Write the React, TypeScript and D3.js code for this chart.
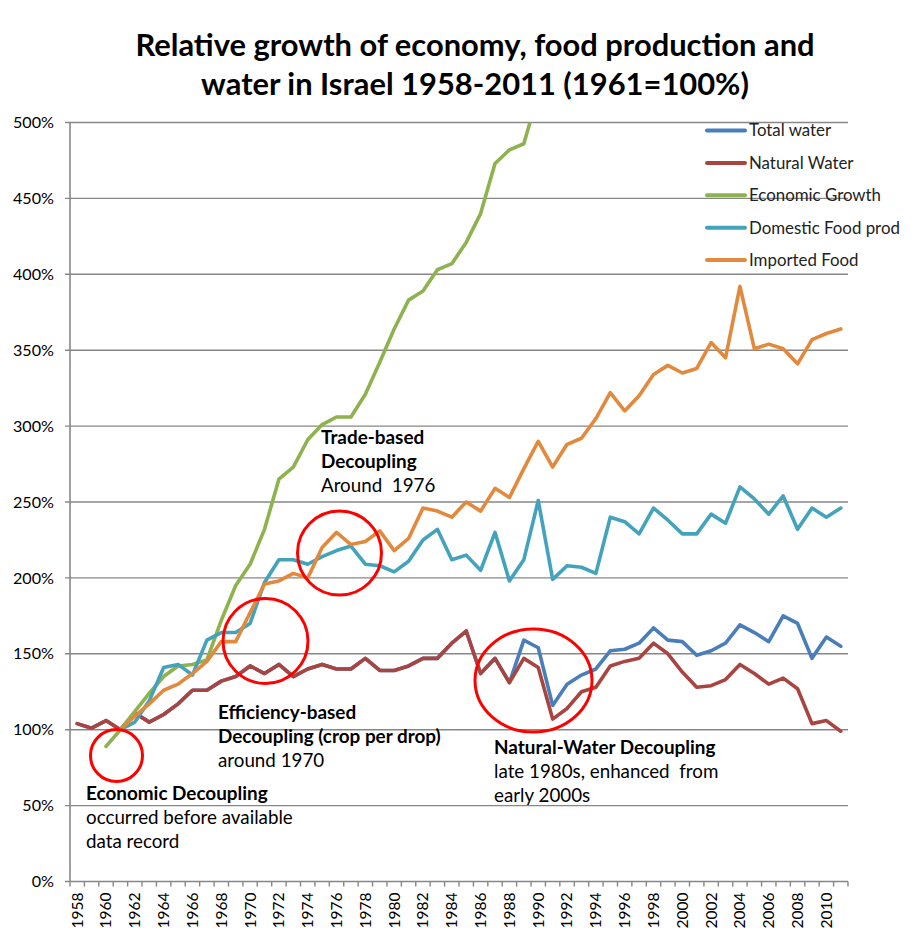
import React, { useMemo } from "react";
import * as d3 from "d3";

// ---------- DATA ----------
const years: number[] = [
  1958, 1959, 1960, 1961, 1962, 1963, 1964, 1965, 1966, 1967, 1968, 1969, 1970, 1971, 1972, 1973, 1974, 1975,
  1976, 1977, 1978, 1979, 1980, 1981, 1982, 1983, 1984, 1985, 1986, 1987, 1988, 1989, 1990, 1991, 1992, 1993,
  1994, 1995, 1996, 1997, 1998, 1999, 2000, 2001, 2002, 2003, 2004, 2005, 2006, 2007, 2008, 2009, 2010, 2011,
];

const totalWater: (number | null)[] = [
  104, 101, 106, 100, 111, 105, 110, 117, 126, 126, 132, 135, 142, 137, 143, 135, 140, 143,
  140, 140, 147, 139, 139, 142, 147, 147, 157, 165, 137, 147, 131, 159, 154, 116, 130, 136,
  140, 152, 153, 157, 167, 159, 158, 149, 152, 157, 169, 164, 158, 175, 170, 147, 161, 155,
];

const naturalWater: (number | null)[] = [
  104, 101, 106, 100, 111, 105, 110, 117, 126, 126, 132, 135, 142, 137, 143, 135, 140, 143,
  140, 140, 147, 139, 139, 142, 147, 147, 157, 165, 137, 147, 131, 147, 141, 107, 114, 125,
  128, 142, 145, 147, 157, 150, 138, 128, 129, 133, 143, 137, 130, 134, 127, 104, 106, 99,
];

const economicGrowth: (number | null)[] = [
  null, null, 89, 100, 112, 124, 135, 142, 143, 146, 172, 195, 209, 232, 265, 273, 291, 301,
  306, 306, 321, 342, 364, 383, 389, 403, 407, 421, 440, 473, 482, 486, 519, null, null, null,
  null, null, null, null, null, null, null, null, null, null, null, null, null, null, null, null, null, null,
];

const domesticFood: (number | null)[] = [
  null, null, null, 100, 105, 119, 141, 143, 136, 159, 164, 164, 170, 197, 212, 212, 209, 214,
  218, 221, 209, 208, 204, 211, 225, 232, 212, 215, 205, 230, 198, 212, 251, 199, 208, 207,
  203, 240, 237, 229, 246, 238, 229, 229, 242, 236, 260, 252, 242, 254, 232, 246, 240, 246,
];

const importedFood: (number | null)[] = [
  null, null, null, 100, 109, 117, 126, 130, 137, 145, 158, 158, 177, 196, 198, 203, 200, 220,
  230, 222, 224, 231, 218, 226, 246, 244, 240, 250, 244, 259, 253, 272, 290, 273, 288, 292,
  305, 322, 310, 320, 334, 340, 335, 338, 355, 345, 392, 351, 354, 351, 341, 357, 361, 364,
];

const seriesNames: string[] = ["Total water", "Natural Water", "Economic Growth", "Domestic Food prod", "Imported Food"];
const seriesValues = [totalWater, naturalWater, economicGrowth, domesticFood, importedFood];
const seriesColors: string[] = ["#4A7EBB", "#A94541", "#8DB24E", "#44A3BC", "#E3893D"];

const yTicks: number[] = [0, 50, 100, 150, 200, 250, 300, 350, 400, 450, 500];

const titleLines: string[] = [
  "Relative growth of economy, food production and",
  "water in Israel 1958-2011 (1961=100%)",
];

// ---------- helpers ----------
const FAMILY = "Lato, 'Open Sans', 'Noto Sans', sans-serif";
let ctx: CanvasRenderingContext2D | null = null;
function measure(t: string, weight: string, size: number): number {
  if (!ctx) ctx = document.createElement("canvas").getContext("2d");
  if (!ctx) return t.length * size * 0.5;
  ctx.font = `${weight} ${size}px Lato`;
  return ctx.measureText(t).width;
}
function fit(t: string, weight: string, target: number): number {
  return (20 * target) / measure(t, weight, 20);
}

export default function App() {
  const W = 924;
  const H = 937;
  const left = 70;
  const right = 848;
  const top = 122.5;
  const bottom = 881.5;

  const x = d3.scaleBand<number>().domain(years).range([left, right]).paddingInner(0).paddingOuter(0);
  const bw = x.bandwidth();
  const cx = (yr: number) => (x(yr) as number) + bw / 2;
  const y = d3.scaleLinear().domain([0, 500]).range([bottom, top]);

  const sizes = useMemo(() => {
    return {
      title: fit(titleLines[0], "bold", 680),
      yLab: fit("100%", "normal", 41),
      xLab: fit("1958", "normal", 36),
      legend: fit("Domestic Food prod", "normal", 151),
      annBold: fit("Natural-Water Decoupling", "bold", 222),
      annReg: fit("occurred before available", "normal", 207),
    };
  }, []);

  const line = d3
    .line<number | null>()
    .defined((v) => v != null)
    .x((_, i) => cx(years[i]))
    .y((v) => y(v as number));

  const gridColor = "#878787";

  const annotations: { x: number; lines: { t: string; bold: boolean; y: number }[] }[] = [
    {
      x: 321,
      lines: [
        { t: "Trade-based", bold: true, y: 444 },
        { t: "Decoupling", bold: true, y: 467.5 },
        { t: "Around  1976", bold: false, y: 491.5 },
      ],
    },
    {
      x: 218,
      lines: [
        { t: "Efficiency-based", bold: true, y: 718.5 },
        { t: "Decoupling (crop per drop)", bold: true, y: 742.5 },
        { t: "around 1970", bold: false, y: 766.5 },
      ],
    },
    {
      x: 86,
      lines: [
        { t: "Economic Decoupling", bold: true, y: 800 },
        { t: "occurred before available", bold: false, y: 824 },
        { t: "data record", bold: false, y: 848 },
      ],
    },
    {
      x: 494,
      lines: [
        { t: "Natural-Water Decoupling", bold: true, y: 753.5 },
        { t: "late 1980s, enhanced  from", bold: false, y: 777.5 },
        { t: "early 2000s", bold: false, y: 801.5 },
      ],
    },
  ];

  return (
    <svg
      width={W}
      height={H}
      viewBox={`0 0 ${W} ${H}`}
      style={{ position: "absolute", left: 0, top: 0, display: "block", background: "#fff" }}
      fontFamily={FAMILY}
    >
      <defs>
        <clipPath id="plotClip">
          <rect x={left} y={top} width={right - left} height={bottom - top} />
        </clipPath>
      </defs>
      <rect x={0} y={0} width={W} height={H} fill="#fff" />

      {/* title */}
      {titleLines.map((t, i) => (
        <text
          key={i}
          x={475}
          y={56 + i * 39}
          textAnchor="middle"
          fontWeight="bold"
          fontSize={sizes.title}
          fill="#000"
        >
          {t}
        </text>
      ))}

      {/* gridlines + y ticks */}
      {yTicks.map((v) => (
        <line key={v} x1={left - 5} x2={right} y1={y(v)} y2={y(v)} stroke={gridColor} strokeWidth={1.4} />
      ))}
      {/* y axis */}
      <line x1={left} x2={left} y1={top} y2={bottom} stroke={gridColor} strokeWidth={1.6} />
      {/* x ticks */}
      {d3.range(years.length + 1).map((i) => (
        <line
          key={i}
          x1={left + i * bw}
          x2={left + i * bw}
          y1={bottom}
          y2={bottom + 5}
          stroke={gridColor}
          strokeWidth={1.4}
        />
      ))}

      {/* y labels */}
      {yTicks.map((v) => (
        <text key={v} x={54} y={y(v)} dy="0.35em" textAnchor="end" fontSize={sizes.yLab} fill="#000">
          {v + "%"}
        </text>
      ))}

      {/* x labels */}
      {years
        .filter((_, i) => i % 2 === 0)
        .map((yr) => (
          <text
            key={yr}
            transform={`translate(${cx(yr)},${bottom + 11}) rotate(-90)`}
            textAnchor="end"
            dy="0.35em"
            fontSize={sizes.xLab}
            fill="#000"
          >
            {yr}
          </text>
        ))}

      {/* series */}
      <g clipPath="url(#plotClip)">
        {seriesValues.map((vals, si) => (
          <path
            key={si}
            d={line(vals) || ""}
            fill="none"
            stroke={seriesColors[si]}
            strokeWidth={3.6}
            strokeLinejoin="round"
            strokeLinecap="round"
          />
        ))}
      </g>

      {/* legend */}
      {seriesNames.map((name, i) => {
        const ly = 130.5 + i * 32.4;
        return (
          <g key={name}>
            <line x1={707} x2={745} y1={ly} y2={ly} stroke={seriesColors[i]} strokeWidth={4} strokeLinecap="round" />
            <text x={749} y={ly} dy="0.35em" fontSize={sizes.legend} fill="#222">
              {name}
            </text>
          </g>
        );
      })}

      {/* red circles */}
      <g fill="none" stroke="#FF0000" strokeWidth={3}>
        <circle cx={116.5} cy={755.5} r={26} />
        <circle cx={265.5} cy={641} r={42.5} />
        <circle cx={339.5} cy={553} r={42} />
        <ellipse cx={533.5} cy={680.5} rx={58.5} ry={51.5} />
      </g>

      {/* annotation texts */}
      {annotations.map((a, ai) => (
        <g key={ai}>
          {a.lines.map((l, li) => (
            <text
              key={li}
              x={a.x}
              y={l.y}
              fontWeight={l.bold ? "bold" : "normal"}
              fontSize={l.bold ? sizes.annBold : sizes.annReg}
              fill="#000"
              style={{ whiteSpace: "pre" }}
            >
              {l.t}
            </text>
          ))}
        </g>
      ))}
    </svg>
  );
}
